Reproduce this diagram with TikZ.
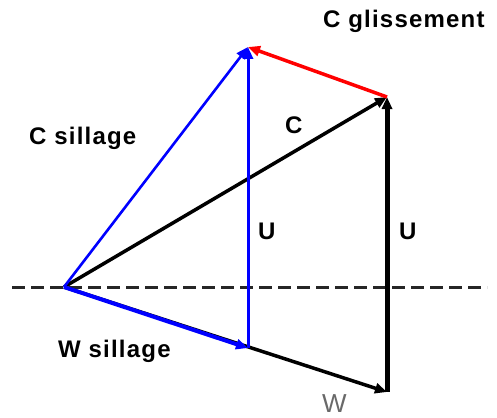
\documentclass[tikz,border=0pt]{standalone}
\usepackage{fontspec}
\setmainfont{Liberation Sans}
\newfontfamily\lblfont[LetterSpace=5]{Liberation Sans}
\usetikzlibrary{arrows.meta}
\definecolor{wgray}{RGB}{105,105,105}
\begin{document}
\begin{tikzpicture}[x=1pt,y=-1pt,
  vec/.style={line width=#1, -{Triangle[length=12pt,width=10pt]}},
  lbl/.style={font=\lblfont\fontsize{24}{28}\selectfont\bfseries, inner sep=0pt, anchor=base west}]
\useasboundingbox (0,0) rectangle (497,417);
\coordinate (O) at (64,287);
\coordinate (Ws) at (248,348);
\coordinate (W) at (387,392);
\coordinate (C) at (387,97);
\coordinate (Cs) at (248,47);
\coordinate (L) at (12,287);
\coordinate (R) at (487,287);
% dashed axis
\draw[line width=3pt, dash pattern=on 13pt off 6pt, color=black!85] (L) -- (R);
% black vectors
\draw[vec=3.5pt] (O) -- (W);
\draw[vec=3.5pt] (O) -- (C);
\draw[vec=5pt] (W) -- (C);
% red
\draw[vec=3.5pt, red] (C) -- (Cs);
% blue vectors
\draw[vec=2.6pt, blue] (O) -- (Cs);
\draw[vec=3pt, blue] (Ws) -- (Cs);
\draw[vec=4pt, blue] (O) -- (Ws);
% labels
\node[lbl] (lcg) at (323,28) {C glissement};
\node[lbl] (lcs) at (29,144) {C sillage};
\node[lbl] (lc) at (285,133) {C};
\node[lbl] (lu1) at (258,239) {U};
\node[lbl] (lu2) at (399,239) {U};
\node[lbl] (lws) at (58,357) {W sillage};
\node[inner sep=0pt, anchor=base west, font=\fontsize{26}{30}\selectfont, text=wgray] (lw) at (322,412) {W};
\end{tikzpicture}
\end{document}
